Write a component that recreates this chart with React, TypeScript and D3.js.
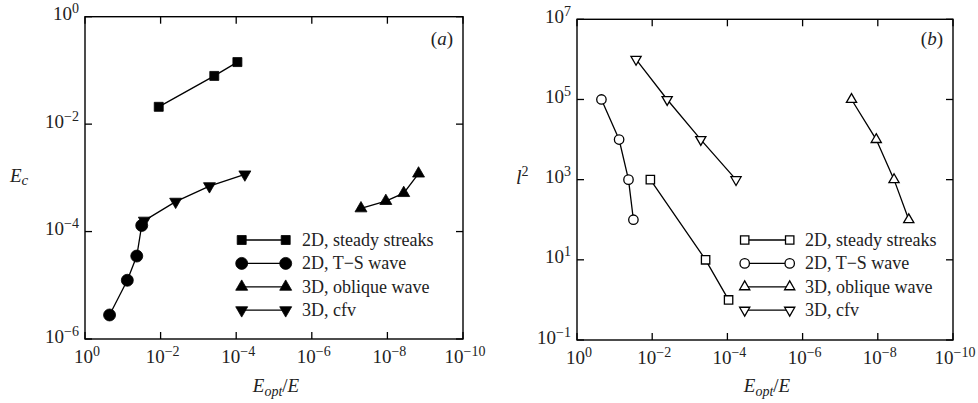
import React from 'react';
import * as d3 from 'd3';

// ---- data ----
const xTickExps = [0, -2, -4, -6, -8, -10];
const yTickExpsA = [0, -2, -4, -6];
const yTickExpsB = [7, 5, 3, 1, -1];

const seriesNames = ['2D, steady streaks', '2D, T\u2212S wave', '3D, oblique wave', '3D, cfv'];

const streaksX = [1.12e-2, 3.8e-4, 9.3e-5];
const tsX = [0.224, 0.0759, 0.0427, 0.0316];
const obliqueX = [5.0e-8, 1.1e-8, 3.7e-9, 1.5e-9];
const cfvX = [0.0269, 4.0e-3, 5.1e-4, 5.9e-5];

const streaksEc = [0.021, 0.079, 0.143];
const tsEc = [2.8e-6, 1.24e-5, 3.5e-5, 1.3e-4];
const obliqueEc = [2.7e-4, 3.7e-4, 5.2e-4, 1.2e-3];
const cfvEc = [1.6e-4, 3.6e-4, 7.0e-4, 1.16e-3];

const streaksL2 = [1e3, 1e1, 1];
const tsL2 = [1e5, 1e4, 1e3, 1e2];
const obliqueL2 = [1e5, 1e4, 1e3, 1e2];
const cfvL2 = [1e6, 1e5, 1e4, 1e3];

const FONT = "'Liberation Serif', 'DejaVu Serif', serif";
const fontStyle = { fontFamily: FONT };

type Kind = 'square' | 'circle' | 'up' | 'down';

function Marker({ kind, x, y, filled, size }: { kind: Kind; x: number; y: number; filled: boolean; size: number }) {
  const typeMap: Record<Kind, d3.SymbolType> = {
    square: d3.symbolSquare,
    circle: d3.symbolCircle,
    up: d3.symbolTriangle,
    down: d3.symbolTriangle,
  };
  const d = d3.symbol().type(typeMap[kind]).size(size)() || '';
  const rot = kind === 'down' ? ' rotate(180)' : '';
  return (
    <path
      d={d}
      transform={`translate(${x},${y})${rot}`}
      fill={filled ? '#000' : '#fff'}
      stroke="#000"
      strokeWidth={filled ? 0.8 : 1.3}
    />
  );
}

function Pow({ exp, x, y, anchor }: { exp: number; x: number; y: number; anchor: string }) {
  const s = exp < 0 ? '\u2212' + Math.abs(exp) : String(exp);
  return (
    <text x={x} y={y} textAnchor={anchor} style={fontStyle} fontSize={19} fill="#222">
      10<tspan dy={-7} fontSize={14}>{s}</tspan>
    </text>
  );
}

type Panel = {
  left: number; right: number; top: number; bottom: number;
  yDomain: [number, number]; yTicks: number[];
  filled: boolean;
  ys: number[][];
  sizes: number[];
  legendX1: number; legendX2: number; legendText: number;
  tag: string;
  yLabel: 'Ec' | 'l2';
  yLabelX: number;
};

const kinds: Kind[] = ['square', 'circle', 'up', 'down'];
const xsAll = [streaksX, tsX, obliqueX, cfvX];
const drawOrder = [0, 2, 3, 1];

function PanelView({ p }: { p: Panel }) {
  const x = d3.scaleLog().domain([1, 1e-10]).range([p.left, p.right]);
  const y = d3.scaleLog().domain(p.yDomain).range([p.bottom, p.top]);
  const line = d3.line<[number, number]>().x((d) => x(d[0])).y((d) => y(d[1]));
  const T = 7;
  const legendRows = [240, 263.4, 286.8, 310.2];
  return (
    <g>
      {drawOrder.map((i) => {
        const pts = xsAll[i].map((xv, j) => [xv, p.ys[i][j]] as [number, number]);
        return <path key={'l' + i} d={line(pts) || ''} fill="none" stroke="#000" strokeWidth={1.3} />;
      })}
      {drawOrder.map((i) =>
        xsAll[i].map((xv, j) => (
          <Marker key={'m' + i + '-' + j} kind={kinds[i]} x={x(xv)} y={y(p.ys[i][j])} filled={p.filled} size={p.sizes[i]} />
        ))
      )}
      <rect x={p.left} y={p.top} width={p.right - p.left} height={p.bottom - p.top} fill="none" stroke="#000" strokeWidth={1.4} />
      {xTickExps.map((e) => {
        const xx = x(Math.pow(10, e));
        return (
          <g key={'xt' + e}>
            <line x1={xx} x2={xx} y1={p.bottom} y2={p.bottom - T} stroke="#000" strokeWidth={1.3} />
            <line x1={xx} x2={xx} y1={p.top} y2={p.top + T} stroke="#000" strokeWidth={1.3} />
            <Pow exp={e} x={xx + 2} y={p.bottom + 24} anchor="middle" />
          </g>
        );
      })}
      {p.yTicks.map((e) => {
        const yy = y(Math.pow(10, e));
        return (
          <g key={'yt' + e}>
            <line x1={p.left} x2={p.left + T} y1={yy} y2={yy} stroke="#000" strokeWidth={1.3} />
            <line x1={p.right} x2={p.right - T} y1={yy} y2={yy} stroke="#000" strokeWidth={1.3} />
            <Pow exp={e} x={p.left - 6} y={yy + 3.5} anchor="end" />
          </g>
        );
      })}
      {kinds.map((k, i) => (
        <g key={'lg' + i}>
          <line x1={p.legendX1} x2={p.legendX2} y1={legendRows[i]} y2={legendRows[i]} stroke="#000" strokeWidth={1.3} />
          <Marker kind={k} x={p.legendX1} y={legendRows[i]} filled={p.filled} size={p.sizes[i]} />
          <Marker kind={k} x={p.legendX2} y={legendRows[i]} filled={p.filled} size={p.sizes[i]} />
          <text x={p.legendText} y={legendRows[i] + 6} style={fontStyle} fontSize={18} fill="#222">
            {seriesNames[i]}
          </text>
        </g>
      ))}
      <text x={p.right - 10} y={45} textAnchor="end" style={fontStyle} fontSize={19} fill="#222">
        (<tspan fontStyle="italic">{p.tag}</tspan>)
      </text>
      <text x={(p.left + p.right) / 2 + 2} y={392} textAnchor="middle" style={fontStyle} fontSize={19} fill="#222">
        <tspan fontStyle="italic">E</tspan>
        <tspan fontStyle="italic" fontSize={14} dy={4}>opt</tspan>
        <tspan dy={-4}>/</tspan>
        <tspan fontStyle="italic">E</tspan>
      </text>
      {p.yLabel === 'Ec' ? (
        <text x={p.yLabelX} y={182} style={fontStyle} fontSize={19} fill="#222">
          <tspan fontStyle="italic">E</tspan>
          <tspan fontStyle="italic" fontSize={15} dy={3}>c</tspan>
        </text>
      ) : (
        <text x={p.yLabelX} y={184} style={fontStyle} fontSize={20} fill="#222">
          <tspan fontStyle="italic">l</tspan>
          <tspan fontSize={14} dy={-8}>2</tspan>
        </text>
      )}
    </g>
  );
}

const panelA: Panel = {
  left: 85, right: 463, top: 16.7, bottom: 339,
  yDomain: [1e-6, 1], yTicks: yTickExpsA,
  filled: true,
  ys: [streaksEc, tsEc, obliqueEc, cfvEc],
  sizes: [81, 113, 62, 62],
  legendX1: 241.7, legendX2: 285.7, legendText: 302,
  tag: 'a', yLabel: 'Ec', yLabelX: 10,
};

const panelB: Panel = {
  left: 577, right: 953, top: 19.3, bottom: 340,
  yDomain: [1e-1, 1e7], yTicks: yTickExpsB,
  filled: false,
  ys: [streaksL2, tsL2, obliqueL2, cfvL2],
  sizes: [70, 70, 45, 45],
  legendX1: 744.7, legendX2: 789.7, legendText: 805,
  tag: 'b', yLabel: 'l2', yLabelX: 516,
};

export default function App() {
  return (
    <svg
      width={978}
      height={403}
      viewBox="0 0 978 403"
      style={{ position: 'absolute', left: 0, top: 0, background: '#fff' }}
    >
      <rect x={0} y={0} width={978} height={403} fill="#fff" />
      <PanelView p={panelA} />
      <PanelView p={panelB} />
    </svg>
  );
}
